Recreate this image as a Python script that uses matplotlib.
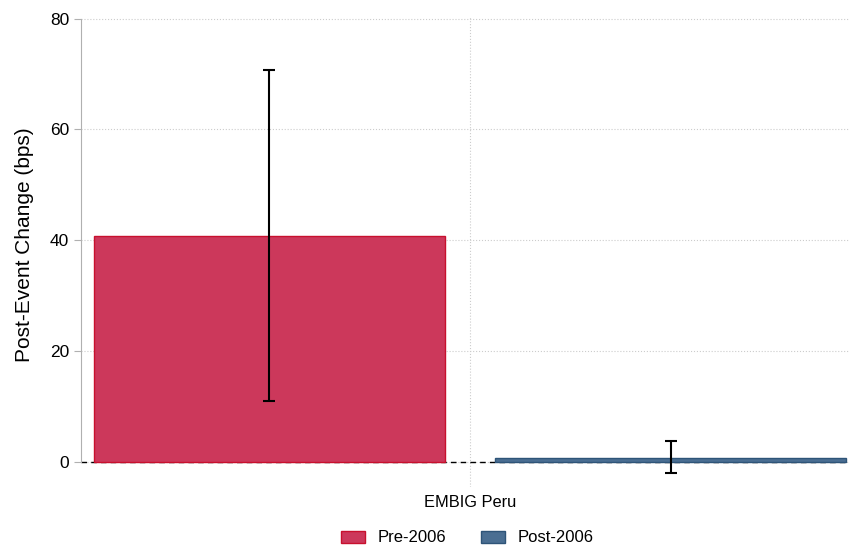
import matplotlib
matplotlib.use('Agg')
import matplotlib.pyplot as plt

plt.rcParams['font.family'] = ['Liberation Sans', 'DejaVu Sans']

# data
category = 'EMBIG Peru'
groups = ['Pre-2006', 'Post-2006']
means = [40.8, 0.7]
ci_low = [11.0, -2.0]
ci_high = [70.8, 3.8]
offsets = [-0.5, 0.5]
colors = ['#cc385b', '#4a6e92']
edges = ['#c8102e', '#2e5478']

fig = plt.figure(figsize=(8.49, 5.46), dpi=100)
ax = fig.add_axes([0.0954, 0.108, 0.9046, 0.863])

ax.axhline(0, color='black', lw=1, ls=(0, (4, 3)), zorder=1)

for off, m, lo, hi, c, e, g in zip(offsets, means, ci_low, ci_high, colors, edges, groups):
    ax.bar(off, m, width=0.875, color=c, edgecolor=e, lw=1, label=g, zorder=2)
    ax.errorbar(off, m, yerr=[[m - lo], [hi - m]], fmt='none', ecolor='black',
                elinewidth=1.5, capsize=4, capthick=1.5, zorder=3)

ax.set_xlim(-0.97, 0.945)
ax.set_ylim(-4.5, 80.5)
ax.set_yticks([0, 20, 40, 60, 80])
ax.set_xticks([0])
ax.set_xticklabels([category])
ax.tick_params(axis='x', length=0, labelsize=11.8, pad=6)
ax.tick_params(axis='y', length=5, color='#b0b0b0', labelsize=12.5)
ax.set_ylabel('Post-Event Change (bps)', fontsize=15)
ax.yaxis.set_label_coords(-0.061, 0.515)

ax.grid(True, ls=':', color='#cccccc', lw=0.8, zorder=0)
ax.set_axisbelow(True)
for s in ['top', 'right', 'bottom']:
    ax.spines[s].set_visible(False)
ax.spines['left'].set_color('#b0b0b0')
ax.spines['left'].set_bounds(0, 80)

handles, labels = ax.get_legend_handles_labels()
fig.legend(handles, labels, loc='center', bbox_to_anchor=(467 / 849, 1 - 538 / 546),
           ncol=2, frameon=False, fontsize=12, handlelength=1.45, handleheight=0.72,
           handletextpad=0.75, columnspacing=2.1)

fig.savefig('out.png', dpi=100)
